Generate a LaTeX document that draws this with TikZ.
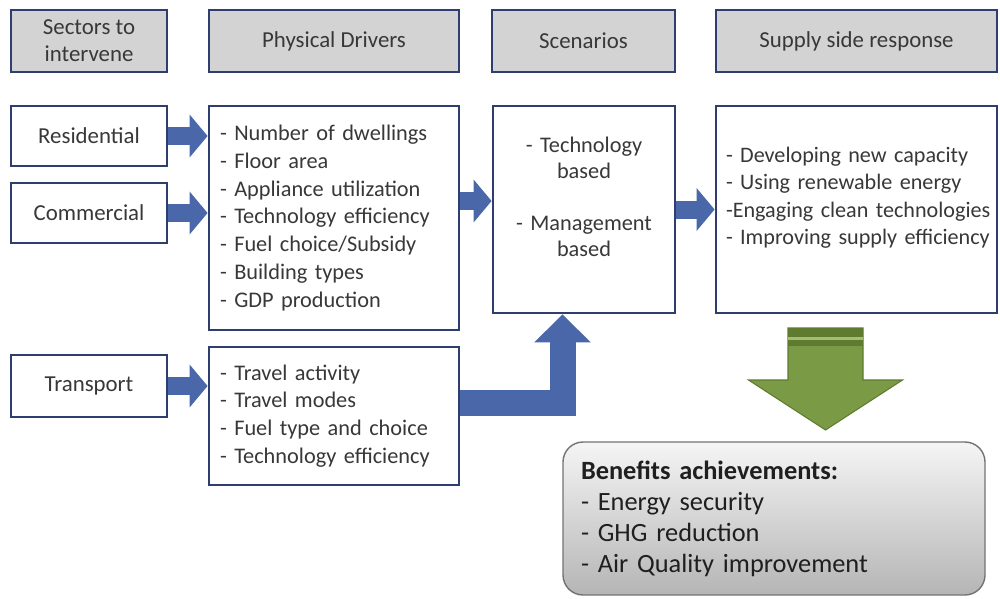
\documentclass[tikz,border=0pt]{standalone}
\usepackage{fontspec}
\setmainfont{Carlito}
\usetikzlibrary{calc,arrows.meta}

\definecolor{boxline}{HTML}{2F3E6E}
\definecolor{arrowblue}{HTML}{4A67AA}
\definecolor{headgray}{HTML}{D3D3D3}
\definecolor{textgray}{HTML}{383838}
\definecolor{leafgreen}{HTML}{7B9A45}
\definecolor{leafdark}{HTML}{5E7B30}
\definecolor{leaflight}{HTML}{A3BD72}

\tikzset{
	header/.style={draw=boxline, line width=1.6pt, fill=headgray, text=textgray, align=center, minimum height=1.24cm, font=\fontsize{13}{15.4}\selectfont},
	sector/.style={draw=boxline, line width=1.6pt, fill=white, text=textgray, minimum width=3.12cm, minimum height=1.2cm, font=\fontsize{13}{15.4}\selectfont},
	listbox/.style={draw=boxline, line width=1.6pt, fill=white, text=textgray, align=left, inner xsep=0.22cm, font=\fontsize{12.7}{15.8}\selectfont},
	blockarrow/.style={draw=arrowblue, line width=0.36cm, -{Triangle[length=0.36cm, width=0.84cm]}},
	elbowarrow/.style={draw=arrowblue, line width=0.52cm, line join=miter, -{Triangle[length=0.56cm, width=1.1cm]}},
	greenarrow/.style={fill=leafgreen, draw=leafdark, line width=0.6pt, line join=miter}
}

\begin{document}
\begin{tikzpicture}

		\useasboundingbox (0,0) rectangle (20,-11.98);

		\pgfmathsetmacro{\gshaft}{0.75}
		\pgfmathsetmacro{\ghead}{1.54}
		\pgfmathsetmacro{\gbase}{1.04}

		% draw headers
		\node[header, minimum width=3.12cm] (hsec) at (1.78, -0.82) {Sectors to\\intervene};
		\node[header, minimum width=5.0cm] (hdrv) at (6.68, -0.82) {Physical Drivers};
		\node[header, minimum width=3.66cm] (hscn) at (11.67, -0.82) {Scenarios};
		\node[header, minimum width=5.62cm] (hsup) at (17.13, -0.82) {Supply side response};

		% draw sectors
		\node[sector] (res) at (1.78, -2.72) {Residential};
		\node[sector] (com) at (1.78, -4.26) {Commercial};
		\node[sector, minimum height=1.24cm] (tra) at (1.78, -7.72) {Transport};

		% draw drivers
		\node[listbox, text width=4.56cm, minimum height=4.48cm] (drv1) at (6.68, -4.36) {%
			- Number of dwellings\\
			- Floor area\\
			- Appliance utilization\\
			- Technology efficiency\\
			- Fuel choice/Subsidy\\
			- Building types\\
			- GDP production};
		\node[listbox, text width=4.56cm, minimum height=2.76cm] (drv2) at (6.68, -8.32) {%
			- Travel activity\\
			- Travel modes\\
			- Fuel type and choice\\
			- Technology efficiency};

		% draw scenarios and supply response
		\node[listbox, align=center, text width=3.2cm, minimum height=4.14cm, font=\fontsize{12.7}{14.6}\selectfont] (scn) at (11.68, -4.19) {%
			- Technology\\based\\[15pt]- Management\\based\\\mbox{}};
		\node[listbox, text width=5.42cm, inner xsep=0.1cm, minimum height=4.14cm, font=\fontsize{12.6}{15.6}\selectfont] (sup) at (17.13, -4.19) {%
			\hspace*{0.1cm}- Developing new capacity\\
			\hspace*{0.1cm}- Using renewable energy\\
			\hspace*{0.1cm}-Engaging clean technologies\\
			\hspace*{0.1cm}- Improving supply efficiency\\
			\mbox{}};

		% draw benefits
		\node[draw=gray!90!black, line width=0.8pt, rounded corners=0.4cm, top color=gray!8, bottom color=gray!58, text=black!88, align=left, text width=7.72cm, inner xsep=0.36cm, minimum height=3.06cm, font=\fontsize{15}{17.6}\selectfont] (ben) at (15.48, -10.37) {%
			\textbf{Benefits achievements:}\\
			- Energy security\\
			- GHG reduction\\
			- Air Quality improvement};

		% draw blue arrows
		\draw[blockarrow] (res) -- (res -| drv1.west);
		\draw[blockarrow] (com) -- (com -| drv1.west);
		\draw[blockarrow] (tra) -- (tra -| drv2.west);
		\coordinate (drvout) at ($(drv1.east)+(0,0.34)$);
		\draw[blockarrow] (drvout) -- (drvout -| scn.west);
		\draw[blockarrow] (scn) -- (sup);

		\coordinate (bend) at (11.25, -8.05);
		\draw[elbowarrow] (drv2.east |- bend) -- (bend) -- (bend |- scn.south);

		% draw green arrow
		\coordinate (gtop) at (16.51, -6.56);
		\coordinate (gtip) at (16.51, -8.6);
		\draw[greenarrow] ($(gtop)+(-\gshaft,0)$) -- ($(gtop)+(-\gshaft,-\gbase)$) -- ($(gtop)+(-\ghead,-\gbase)$) -- (gtip) --
			($(gtop)+(\ghead,-\gbase)$) -- ($(gtop)+(\gshaft,-\gbase)$) -- ($(gtop)+(\gshaft,0)$) -- cycle;
		\fill[leafdark] ($(gtop)+(-\gshaft,0)$) rectangle ($(gtop)+(\gshaft,-0.36)$);
		\fill[leaflight] ($(gtop)+(-\gshaft,-0.17)$) rectangle ($(gtop)+(\gshaft,-0.23)$);

\end{tikzpicture}
\end{document}
